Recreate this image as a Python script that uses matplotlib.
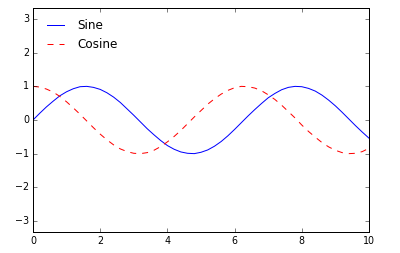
import matplotlib
matplotlib.use("Agg")
import matplotlib.pyplot as plt
import numpy as np

plt.style.use("classic")
plt.rcParams['font.size'] = 9.5

x = np.linspace(0, 10, 51)
sine = [0.00, 0.20, 0.39, 0.56, 0.72, 0.84, 0.93, 0.99, 1.00, 0.97, 0.91,
        0.81, 0.68, 0.52, 0.33, 0.14, -0.06, -0.26, -0.44, -0.61, -0.76,
        -0.87, -0.95, -0.99, -1.00, -0.96, -0.89, -0.78, -0.64, -0.47, -0.28,
        -0.08, 0.12, 0.31, 0.49, 0.66, 0.79, 0.90, 0.97, 1.00, 0.99, 0.94,
        0.86, 0.74, 0.59, 0.42, 0.23, 0.03, -0.17, -0.36, -0.54]
cosine = [1.00, 0.98, 0.92, 0.83, 0.70, 0.54, 0.36, 0.17, -0.03, -0.23, -0.42,
          -0.59, -0.74, -0.86, -0.94, -0.99, -1.00, -0.97, -0.90, -0.79, -0.65,
          -0.49, -0.31, -0.11, 0.09, 0.28, 0.47, 0.63, 0.77, 0.88, 0.96,
          1.00, 0.99, 0.95, 0.87, 0.75, 0.61, 0.44, 0.25, 0.06, -0.15, -0.34,
          -0.51, -0.67, -0.80, -0.90, -0.97, -1.00, -0.99, -0.94, -0.84]

fig = plt.figure(figsize=(400/72, 253/72), dpi=72)
ax = fig.add_axes([33/400, 21/253, 336/400, 224/253])
ax.plot(x, sine, '-b', label='Sine')
ax.plot(x, cosine, '--r', label='Cosine')
ax.set_xlim(0, 10)
ax.set_ylim(-3.33, 3.33)
ax.set_yticks([-3, -2, -1, 0, 1, 2, 3])
ax.legend(loc='upper left', frameon=False, fontsize=12)
fig.savefig("out.png", dpi=72)
